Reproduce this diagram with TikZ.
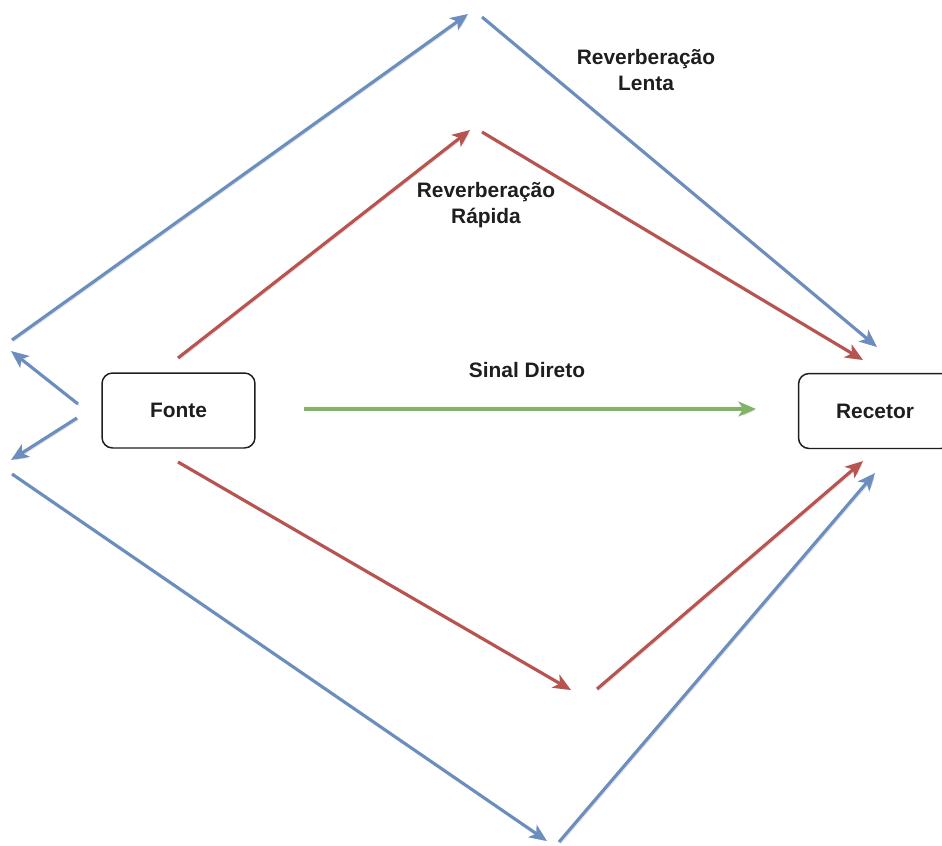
\documentclass[tikz,border=0pt]{standalone}
\usepackage{fontspec}
\setmainfont{Liberation Sans}
\usetikzlibrary{arrows.meta}
\definecolor{lineblue}{HTML}{6C8EBF}
\definecolor{linered}{HTML}{B85450}
\definecolor{linegreen}{HTML}{82B366}
\definecolor{inkdark}{HTML}{1E1E1E}
\tikzset{
  labelfont/.style={font=\fontsize{11.9}{14.7}\selectfont\bfseries, text=inkdark},
  box/.style={draw=inkdark, line width=0.85pt, rounded corners=6pt, fill=white,
    minimum width=3.06cm, minimum height=1.5cm, labelfont},
  caption/.style={labelfont, align=center, inner sep=0pt},
  ray/.style={line width=1.8pt, line cap=butt,
    -{Stealth[length=10pt, width=8.5pt, inset=2.6pt]},
    preaction={draw=black!15, transform canvas={shift={(1.6,1.6)}}}},
  blueray/.style={ray, draw=lineblue},
  redray/.style={ray, draw=linered},
  greenray/.style={ray, draw=linegreen},
}
\begin{document}
\begin{tikzpicture}[x=0.02cm, y=-0.02cm]
\useasboundingbox (0,0) rectangle (942,845);

% source and receiver
\node[box] (fonte) at (178.5,410.5) {Fonte};
\node[box] (recetor) at (875,411) {Recetor};

% ray end points
\coordinate (bULs) at (12,340);   \coordinate (bULe) at (468,14);
\coordinate (bURs) at (482,17);   \coordinate (bURe) at (877,347);
\coordinate (rULs) at (178,358);  \coordinate (rULe) at (470,130);
\coordinate (rURs) at (482,132);  \coordinate (rURe) at (863,360);
\coordinate (gs)   at (304,409);  \coordinate (ge)   at (756,409);
\coordinate (bA1s) at (78,404);   \coordinate (bA1e) at (11,351);
\coordinate (bA2s) at (77,418);   \coordinate (bA2e) at (11,460);
\coordinate (bLLs) at (12,474);   \coordinate (bLLe) at (547,841);
\coordinate (bLRs) at (559,842);  \coordinate (bLRe) at (875,473);
\coordinate (rLLs) at (178,462);  \coordinate (rLLe) at (571,690);
\coordinate (rLRs) at (597,689);  \coordinate (rLRe) at (863,461);

% slow reverberation (blue)
\draw[blueray] (bULs) -- (bULe);
\draw[blueray] (bURs) -- (bURe);
\draw[blueray] (bA1s) -- (bA1e);
\draw[blueray] (bA2s) -- (bA2e);
\draw[blueray] (bLLs) -- (bLLe);
\draw[blueray] (bLRs) -- (bLRe);

% fast reverberation (red)
\draw[redray] (rULs) -- (rULe);
\draw[redray] (rURs) -- (rURe);
\draw[redray] (rLLs) -- (rLLe);
\draw[redray] (rLRs) -- (rLRe);

% direct signal (green)
\draw[greenray] (gs) -- (ge);

% captions
\node[caption] (lenta)  at (646,70)  {Reverberação\\Lenta};
\node[caption] (rapida) at (486,205) {Reverberação\\Rápida};
\node[caption] (direto) at (527,370) {Sinal Direto};
\end{tikzpicture}
\end{document}
